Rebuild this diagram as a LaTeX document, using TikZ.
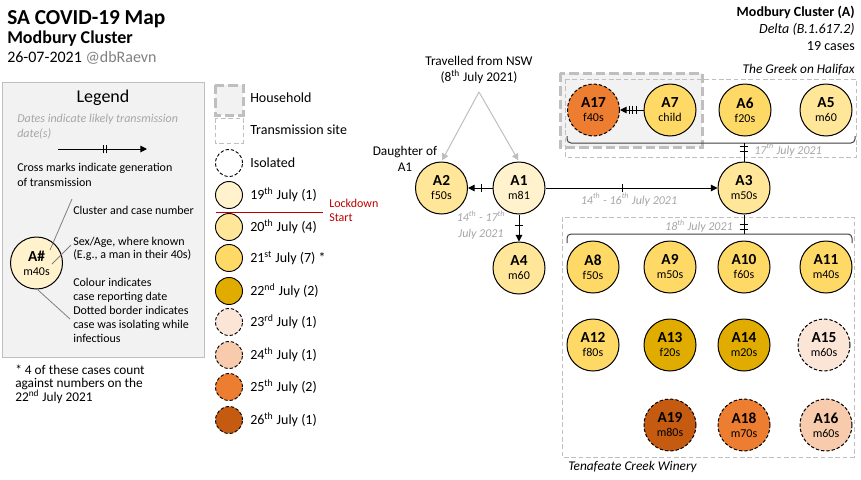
\documentclass[tikz,border=0pt]{standalone}
\usepackage{fontspec}
\setmainfont{Carlito}
\usetikzlibrary{arrows.meta,decorations.markings}
\definecolor{cA}{HTML}{FFF2CC}
\definecolor{cB}{HTML}{FFE699}
\definecolor{cC}{HTML}{FFD966}
\definecolor{cD}{HTML}{E0AC00}
\definecolor{cE}{HTML}{FBE5D6}
\definecolor{cF}{HTML}{F8CBAD}
\definecolor{cG}{HTML}{ED7D31}
\definecolor{cH}{HTML}{C55A11}
\definecolor{boxgray}{HTML}{BFBFBF}
\definecolor{lightfill}{HTML}{F2F2F2}
\definecolor{dategray}{HTML}{A6A6A6}
\definecolor{redtext}{HTML}{C00000}
\newcommand\cstext[2]{\textbf{#1}\\{\fontsize{9}{10.5}\selectfont #2}}
\newcommand\sups[1]{\textsuperscript{#1}}
\begin{document}
\begin{tikzpicture}[x=0.75pt,y=-0.75pt,
  case/.style={circle, draw=black, line width=0.75pt, minimum size=39pt, inner sep=0pt, align=center, font=\fontsize{11.5}{10.5}\selectfont},
  iso/.style={dash pattern=on 2.5pt off 1.5pt},
  keyc/.style={circle, draw=black, line width=0.7pt, minimum size=20.25pt, inner sep=0pt},
  keyt/.style={anchor=base west, inner sep=0pt, font=\fontsize{10.5}{12}\selectfont},
  lgt/.style={anchor=base west, inner sep=0pt, align=left, font=\fontsize{9}{10.9}\selectfont},
  datet/.style={inner sep=0pt, text=dategray, font=\fontsize{9}{11.5}\selectfont\itshape},
  conn/.style={line width=0.75pt, -{Triangle[length=5pt,width=5pt]}},
  tick/.style={postaction={decorate, decoration={markings, mark=at position #1 with {\draw[-,solid,line width=0.75pt] (0,-3.2pt) -- (0,3.2pt);}}}},
  house/.style={draw=boxgray, fill=lightfill, line width=2.25pt, dash pattern=on 7pt off 3pt},
  site/.style={draw=boxgray, line width=0.75pt, dash pattern=on 3.5pt off 2pt},
  brace/.style={draw=black!75, line width=0.75pt, rounded corners=3pt},
  pointer/.style={draw=gray, line width=0.6pt},
  nswarrow/.style={draw=gray!50, line width=0.75pt, -{Triangle[length=5pt,width=5pt,fill=gray!50]}, shorten >=1pt}
]
\useasboundingbox (0,0) rectangle (861,479);
\fill[white] (0,0) rectangle (861,479);

% ---- titles
\node[anchor=base west, inner sep=0pt, font=\fontsize{16}{16}\selectfont\bfseries] (title) at (7,24) {SA COVID-19 Map};
\node[anchor=base west, inner sep=0pt, font=\fontsize{13.5}{14}\selectfont\bfseries] (subtitle) at (7,43.5) {Modbury Cluster};
\node[anchor=base west, inner sep=0pt, font=\fontsize{12}{12}\selectfont] (datel) at (7,62) {26-07-2021 \textcolor{gray}{@dbRaevn}};

\node[anchor=base east, inner sep=0pt, font=\fontsize{10.5}{12}\selectfont\bfseries] (clname) at (855,16.7) {Modbury Cluster (A)};
\node[anchor=base east, inner sep=0pt, font=\fontsize{10.5}{12}\selectfont\itshape] (variant) at (855,33.3) {Delta (B.1.617.2)};
\node[anchor=base east, inner sep=0pt, font=\fontsize{10.5}{12}\selectfont] (ncases) at (855,50) {19 cases};

% ---- legend box
\draw[draw=boxgray, fill=lightfill, line width=0.75pt] (2,82) rectangle (204,357);
\node[anchor=base, inner sep=0pt, font=\fontsize{13.5}{14}\selectfont] (legtitle) at (103,102.7) {Legend};
\node[lgt, text=dategray, font=\fontsize{9}{11.25}\selectfont\itshape] (legdates) at (17,137.5) {Dates indicate likely transmission\\date(s)};
\coordinate (lgA) at (58,149);
\coordinate (lgB) at (147,149);
\draw[conn, tick=0.51, tick=0.545] (lgA) -- (lgB);
\node[lgt, font=\fontsize{9}{11.25}\selectfont] (legcross) at (17,186.5) {Cross marks indicate generation\\of transmission};
\node[case, fill=cA] (legcase) at (36.5,263) {\cstext{A\#}{m40s}};
\node[lgt] (legnum) at (73,214.5) {Cluster and case number};
\node[lgt, font=\fontsize{9}{10}\selectfont] (legsex) at (73,258.8) {Sex/Age, where known\\(E.g., a man in their 40s)};
\node[lgt, font=\fontsize{9}{10.4}\selectfont] (legcol) at (73,342) {Colour indicates\\case reporting date\\Dotted border indicates\\case was isolating while\\infectious};
\coordinate (lp1a) at (50,250); \coordinate (lp1b) at (72,199);
\coordinate (lp2a) at (52,264); \coordinate (lp2b) at (71,245);
\coordinate (lp3a) at (38,290); \coordinate (lp3b) at (70,319);
\draw[pointer] (lp1a) -- (lp1b);
\draw[pointer] (lp2a) -- (lp2b);
\draw[pointer] (lp3a) -- (lp3b);

\node[anchor=base west, inner sep=0pt, align=left, font=\fontsize{10}{10.3}\selectfont] (foot) at (15,401.7) {* 4 of these cases count\\against numbers on the\\22\sups{nd} July 2021};

% ---- key column
\draw[house] (215,85) rectangle (243,115);
\node[keyt] (khouse) at (250,102.5) {Household};
\draw[site] (215,118) rectangle (243,143);
\node[keyt] (ksite) at (250,134.5) {Transmission site};
\node[keyc, iso, fill=white] (kiso) at (229,163) {};
\node[keyt] (kisot) at (250,167.5) {Isolated};
\node[keyc, fill=cA] (k19) at (229,195) {};
\node[keyt] (k19t) at (250,199.5) {19\sups{th} July (1)};
\coordinate (redA) at (216,212); \coordinate (redB) at (323,212);
\draw[redtext, line width=0.75pt] (redA) -- (redB);
\node[anchor=base west, inner sep=0pt, align=left, text=redtext, font=\fontsize{9}{10.8}\selectfont] (lock) at (329,221.7) {Lockdown\\Start};
\node[keyc, fill=cB] (k20) at (229,227) {};
\node[keyt] (k20t) at (250,231.5) {20\sups{th} July (4)};
\node[keyc, fill=cC] (k21) at (229,258) {};
\node[keyt] (k21t) at (250,262.5) {21\sups{st} July (7) *};
\node[keyc, fill=cD] (k22) at (229,291) {};
\node[keyt] (k22t) at (250,295.5) {22\sups{nd} July (2)};
\node[keyc, iso, fill=cE] (k23) at (229,322) {};
\node[keyt] (k23t) at (250,326.5) {23\sups{rd} July (1)};
\node[keyc, iso, fill=cF] (k24) at (229,355) {};
\node[keyt] (k24t) at (250,359.5) {24\sups{th} July (1)};
\node[keyc, iso, fill=cG] (k25) at (229,387) {};
\node[keyt] (k25t) at (250,391.5) {25\sups{th} July (2)};
\node[keyc, iso, fill=cH] (k26) at (229,420) {};
\node[keyt] (k26t) at (250,424.5) {26\sups{th} July (1)};

% ---- group boxes
\draw[house] (560,73) rectangle (702,147);
\draw[site] (565,79) rectangle (856,157);
\node[anchor=base east, inner sep=0pt, font=\fontsize{10}{12}\selectfont\itshape] (greek) at (855,73.3) {The Greek on Halifax};
\draw[site] (562,217) rectangle (854,457);
\node[anchor=base west, inner sep=0pt, font=\fontsize{10}{12}\selectfont\itshape] (winery) at (568,470.7) {Tenafeate Creek Winery};

% ---- cases
\node[case, fill=cA] (a1) at (519,188) {\cstext{A1}{m81}};
\node[case, fill=cB] (a2) at (441.5,188) {\cstext{A2}{f50s}};
\node[case, fill=cB] (a3) at (744,188) {\cstext{A3}{m50s}};
\node[case, fill=cB] (a4) at (519,268) {\cstext{A4}{m60}};
\node[case, fill=cB] (a5) at (826,110) {\cstext{A5}{m60}};
\node[case, fill=cC] (a6) at (745,110) {\cstext{A6}{f20s}};
\node[case, fill=cC] (a7) at (670,110) {\cstext{A7}{child}};
\node[case, iso, fill=cG] (a17) at (593.5,110) {\cstext{A17}{f40s}};
\node[case, fill=cC] (a8) at (593,267) {\cstext{A8}{f50s}};
\node[case, fill=cC] (a9) at (670,267) {\cstext{A9}{m50s}};
\node[case, fill=cC] (a10) at (744,267) {\cstext{A10}{f60s}};
\node[case, fill=cC] (a11) at (826,267) {\cstext{A11}{m40s}};
\node[case, fill=cC] (a12) at (593,345) {\cstext{A12}{f80s}};
\node[case, fill=cD] (a13) at (670,345) {\cstext{A13}{f20s}};
\node[case, fill=cD] (a14) at (744,345) {\cstext{A14}{m20s}};
\node[case, iso, fill=cE] (a15) at (824,345) {\cstext{A15}{m60s}};
\node[case, iso, fill=cH] (a19) at (670,425) {\cstext{A19}{m80s}};
\node[case, iso, fill=cG] (a18) at (744,425) {\cstext{A18}{m70s}};
\node[case, iso, fill=cF] (a16) at (826,425) {\cstext{A16}{m60s}};

% ---- NSW
\node[anchor=base, align=center, inner sep=0pt, font=\fontsize{10}{11.8}\selectfont] (nsw) at (479,81.7) {Travelled from NSW\\(8\sups{th} July 2021)};
\coordinate (nswpt) at (479,92);
\draw[nswarrow] (nswpt) -- (a2.north);
\draw[nswarrow] (nswpt) -- (a1.north);
\node[anchor=base, align=center, inner sep=0pt, font=\fontsize{10}{12.5}\selectfont] (dau) at (405,171.7) {Daughter of\\A1};

% ---- connectors
\draw[conn, tick=0.44] (a1) -- (a2);
\draw[conn, tick=0.445] (a1) -- (a3);
\draw[conn, tick=0.4] (a1) -- (a4);
\draw[conn, tick=0.3, tick=0.46, tick=0.61] (a7) -- (a17);

\draw[brace] (567,136) -- (567,143) -- (855,143) -- (855,136);
\coordinate (tb) at (744,143);
\draw[line width=0.75pt, tick=0.2, tick=0.45] (tb) -- (a3.north);
\draw[brace] (567,243) -- (567,234) -- (852,234) -- (852,243);
\coordinate (bb) at (744,234);
\draw[line width=0.75pt, tick=0.5, tick=0.75] (a3.south) -- (bb);

% ---- date labels
\node[datet, anchor=base] (d13) at (629,204) {14\sups{th} - 16\sups{th} July 2021};
\node[datet, anchor=base, align=center] (d12) at (481,237) {14\sups{th} - 17\sups{th}\\July 2021};
\node[datet, anchor=base west] (dtop) at (754,154) {17\sups{th} July 2021};
\node[datet, anchor=base east] (dbot) at (733,230.7) {18\sups{th} July 2021};
\end{tikzpicture}
\end{document}
